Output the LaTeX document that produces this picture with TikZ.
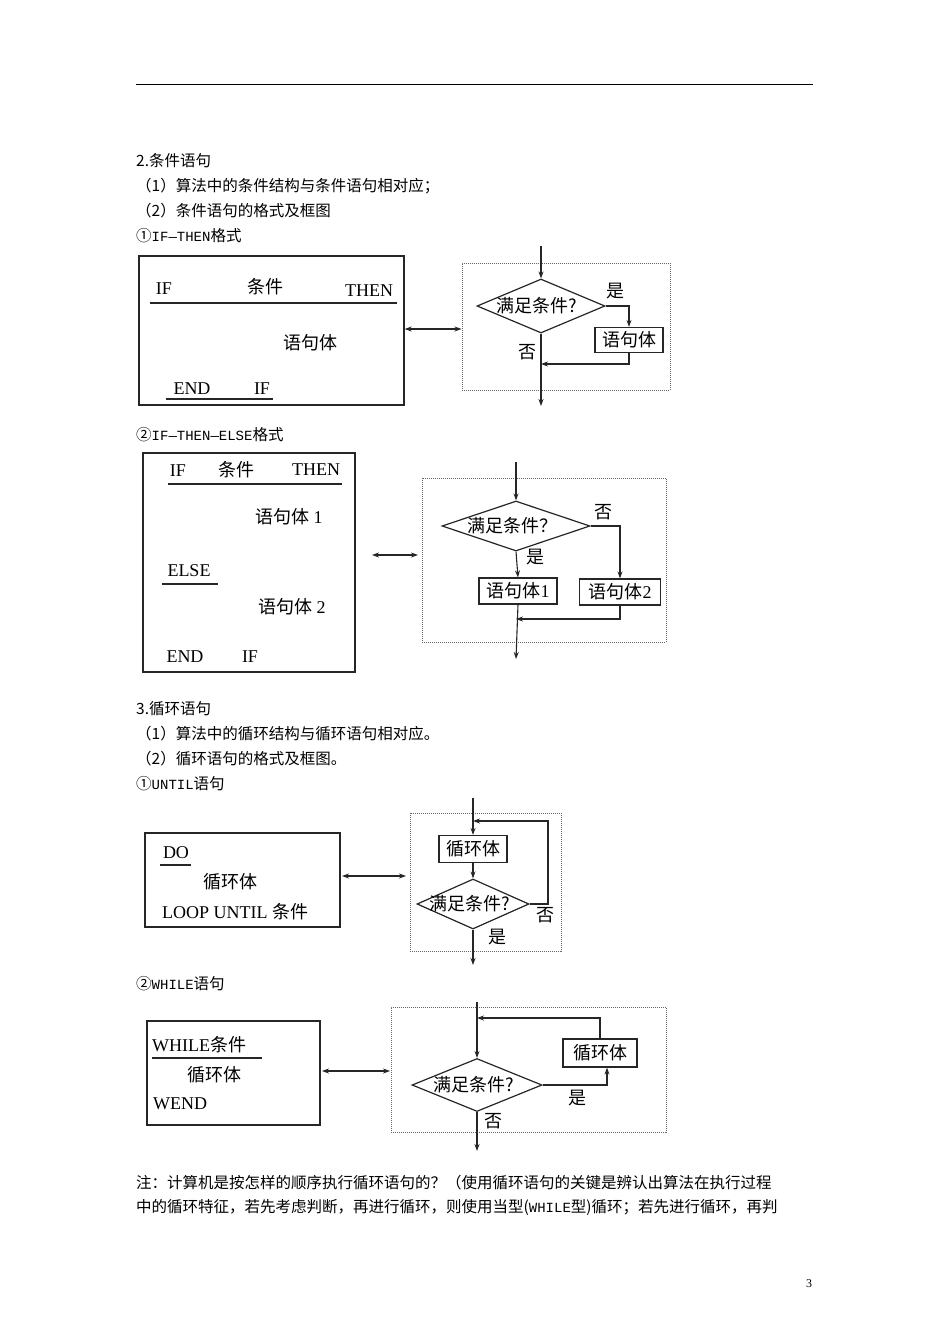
\documentclass[tikz,border=0pt]{standalone}
\usepackage{fontspec}
\setmainfont{Liberation Serif}
\newfontfamily\cjk{Noto Sans CJK SC}
\newfontfamily\mono{Liberation Mono}
\usetikzlibrary{arrows.meta,shapes.geometric,fit}
\newcommand{\fsz}[1]{\fontsize{#1}{#1}\selectfont}
\begin{document}
\begin{tikzpicture}[x=1pt,y=-1pt,
  bx/.style={draw=black!85,line width=1.3pt,inner sep=0pt},
  sbx/.style={draw=black!85,line width=1.2pt,inner sep=2pt,font=\cjk\fsz{18}},
  dbx/.style={draw=black!60,densely dotted,line width=1pt,inner sep=0pt},
  dm/.style={draw=black!85,line width=1.2pt,shape=diamond,inner sep=0pt},
  arr/.style={draw=black!85,line width=1.1pt,-{Stealth[length=7pt,width=5pt]}},
  dar/.style={draw=black!85,line width=1.1pt,{Stealth[length=7pt,width=5pt]}-{Stealth[length=7pt,width=5pt]}},
  ul/.style={draw=black!85,line width=1.2pt},
  body/.style={anchor=west,inner sep=0pt,font=\cjk\fsz{15.5}},
  dt/.style={inner sep=0pt,font=\cjk\fsz{18}},
  lt/.style={inner sep=0pt,font=\fsz{18}}]
\useasboundingbox (0,0) rectangle (950,1344);
\fill[white] (0,0) rectangle (950,1344);
\draw[line width=1pt] (136,84) -- (813,84);
% body text
\node[body] (t1) at (136,161) {2.条件语句};
\node[body] (t2) at (136,186) {（1）算法中的条件结构与条件语句相对应；};
\node[body] (t3) at (136,211) {（2）条件语句的格式及框图};
\node[body] (t4) at (136,236) {①{\mono\fsz{14}IF—THEN}格式};
\node[body] (t5) at (136,435) {②{\mono\fsz{14}IF—THEN—ELSE}格式};
\node[body] (t6) at (136,709) {3.循环语句};
\node[body] (t7) at (136,734) {（1）算法中的循环结构与循环语句相对应。};
\node[body] (t8) at (136,759) {（2）循环语句的格式及框图。};
\node[body] (t9) at (136,784) {①{\mono\fsz{14}UNTIL}语句};
\node[body] (t10) at (136,984) {②{\mono\fsz{14}WHILE}语句};
\node[body] (t11) at (136,1183) {注：计算机是按怎样的顺序执行循环语句的？（使用循环语句的关键是辨认出算法在执行过程};
\node[body] (t12) at (136,1207) {中的循环特征，若先考虑判断，再进行循环，则使用当型({\mono\fsz{14}WHILE}型)循环；若先进行循环，再判};
\node[inner sep=0pt,font=\fsz{12}] (pn) at (809,1284) {3};

% ===== Diagram 1 =====
\node[bx,fit={(139,256)(404,405)}] (L1) {};
\node[lt] at (164,289) {IF};
\node[dt] at (265,287) {条件};
\node[lt] at (369,291) {THEN};
\draw[ul] (150,303) -- (397,303);
\node[dt] at (310,343) {语句体};
\node[lt] at (192,389) {END};
\node[lt] at (262,389) {IF};
\draw[ul] (166,399) -- (273,399);
\node[dbx,fit={(462,263)(670,390)}] (D1) {};
\draw[dar] (L1.east |- 0,329) coordinate (a1) -- (a1 -| D1.west);
\node[dm,minimum width=128,minimum height=54] (dm1) at (541,306) {};
\node[dt] at (537,306) {满足条件?};
\node[sbx,minimum width=68,minimum height=25] (s1) at (629,340) {语句体};
\coordinate (in1) at (541,246);
\coordinate (j1) at (541,364);
\coordinate (o1) at (541,406);
\draw[arr] (in1) -- (dm1.north);
\draw[arr] (dm1.east) -| (s1.north);
\draw[arr] (s1.south) |- (j1);
\draw[arr] (dm1.south) -- (o1);
\node[dt] at (615,291) {是};
\node[dt] at (527,352) {否};

% ===== Diagram 2 =====
\node[bx,fit={(143,453)(355,672)}] (L2) {};
\node[lt] at (178,471) {IF};
\node[dt] at (236,470) {条件};
\node[lt] at (316,470) {THEN};
\draw[ul] (168,484) -- (342,484);
\node[dt] at (289,517) {语句体 {\rmfamily 1}};
\node[lt] at (189,571) {ELSE};
\draw[ul] (162,584) -- (218,584);
\node[dt] at (292,607) {语句体 {\rmfamily 2}};
\node[lt] at (185,657) {END};
\node[lt] at (250,657) {IF};
\node[dbx,fit={(422,478)(666,642)}] (D2) {};
\draw[dar] (372,555) coordinate (a2) -- (418,555) coordinate (b2);
\node[dm,minimum width=148,minimum height=50] (dm2) at (516,526) {};
\node[dt] at (512,526) {满足条件？};
\node[sbx,minimum width=78,minimum height=26] (s2a) at (518,591) {语句体{\rmfamily 1}};
\node[sbx,minimum width=81,minimum height=26] (s2b) at (620,592) {语句体{\rmfamily 2}};
\coordinate (in2) at (516,462);
\coordinate (j2) at (516,619);
\coordinate (o2) at (516,659);
\draw[arr] (in2) -- (dm2.north);
\draw[arr] (dm2.south) -- (s2a.north);
\draw[arr] (dm2.east) -| (s2b.north);
\draw[arr] (s2b.south) |- (j2);
\draw[arr] (s2a.south) -- (o2);
\node[dt] at (603,512) {否};
\node[dt] at (535,557) {是};

% ===== Diagram 3 =====
\node[bx,fit={(145,833)(340,927)}] (L3) {};
\node[lt] at (176,853) {DO};
\draw[ul] (160,865) -- (191,865);
\node[dt] at (230,882) {循环体};
\node[lt,anchor=west] at (162,912) {LOOP UNTIL {\cjk 条件}};
\node[dbx,fit={(410,813)(561,951)}] (D3) {};
\draw[dar] (342,876) -- (406,876);
\node[sbx,minimum width=68,minimum height=27] (s3) at (473,849) {循环体};
\node[dm,minimum width=112,minimum height=50] (dm3) at (473,904) {};
\node[dt] at (470,904) {满足条件?};
\coordinate (in3) at (473,798);
\coordinate (j3) at (473,821);
\coordinate (o3) at (473,965);
\coordinate (r3) at (548,821);
\draw[arr] (in3) -- (s3.north);
\draw[arr] (s3.south) -- (dm3.north);
\draw[arr] (dm3.east) -| (r3) -- (j3);
\draw[arr] (dm3.south) -- (o3);
\node[dt] at (545,915) {否};
\node[dt] at (497,937) {是};

% ===== Diagram 4 =====
\node[bx,fit={(147,1021)(320,1125)}] (L4) {};
\node[lt,anchor=west] at (152,1045) {WHILE{\cjk 条件}};
\draw[ul] (152,1058) -- (262,1058);
\node[dt] at (214,1075) {循环体};
\node[lt,anchor=west] at (153,1104) {WEND};
\node[dbx,fit={(391,1007)(666,1132)}] (D4) {};
\draw[dar] (322,1071) -- (390,1071);
\node[dm,minimum width=130,minimum height=53] (dm4) at (477,1085) {};
\node[dt] at (474,1085) {满足条件?};
\node[sbx,minimum width=74,minimum height=28] (s4) at (600,1053) {循环体};
\coordinate (in4) at (477,1002);
\coordinate (j4) at (477,1018);
\coordinate (o4) at (477,1151);
\draw[arr] (in4) -- (dm4.north);
\draw[arr] (dm4.east) -| ([xshift=7pt]s4.south);
\draw[arr] (s4.north) |- (j4);
\draw[arr] (dm4.south) -- (o4);
\node[dt] at (577,1098) {是};
\node[dt] at (493,1121) {否};
\end{tikzpicture}
\end{document}
